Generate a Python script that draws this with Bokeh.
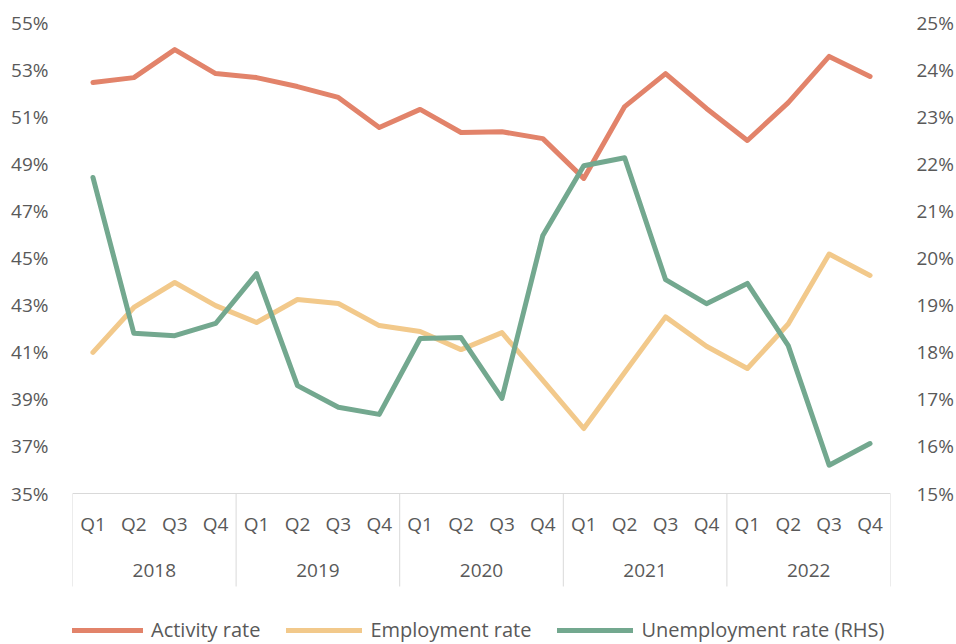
from bokeh.plotting import figure
from bokeh.models import Range1d, LinearAxis, FixedTicker, PrintfTickFormatter, Legend, LegendItem
from bokeh.core.properties import value
from bokeh.embed import file_html
from bokeh.resources import INLINE

# ---- data ----
years = ["2018", "2019", "2020", "2021", "2022"]
quarters = ["Q1", "Q2", "Q3", "Q4"]
activity = [52.45, 52.66, 53.85, 52.83, 52.66, 52.28, 51.82, 50.54, 51.31, 50.33,
            50.36, 50.07, 48.38, 51.43, 52.83, 51.35, 49.99, 51.60, 53.56, 52.71]
employment = [40.99, 42.90, 43.96, 42.98, 42.26, 43.24, 43.07, 42.13, 41.88, 41.11,
              41.83, 39.80, 37.76, 40.14, 42.50, 41.25, 40.31, 42.20, 45.17, 44.26]
unemployment = [21.71, 18.40, 18.35, 18.61, 19.67, 17.29, 16.83, 16.68, 18.29, 18.31,
                17.02, 20.48, 21.96, 22.13, 19.54, 19.03, 19.46, 18.14, 15.60, 16.06]
left_ticks = [35, 37, 39, 41, 43, 45, 47, 49, 51, 53, 55]
right_ticks = [15, 16, 17, 18, 19, 20, 21, 22, 23, 24, 25]

# ---- geometry ----
W, H = 956, 644
top, bottom_border = 22, 0
frame_h = H - top - bottom_border
axis_px = 471.0  # pixel height of the 35..55 span
lk = axis_px / (left_ticks[-1] - left_ticks[0])
rk = axis_px / (right_ticks[-1] - right_ticks[0])
left_range = Range1d(left_ticks[-1] - frame_h / lk, left_ticks[-1])
right_range = Range1d(right_ticks[-1] - frame_h / rk, right_ticks[-1])

n = len(years) * len(quarters)
xs = list(range(n))

FONT = value("Open Sans")
FS = "19px"
GRAY = "#595959"
C_ACT = "#E2836A"
C_EMP = "#F2C98B"
C_UNE = "#73A88F"

p = figure(width=W, height=H, output_backend="svg", toolbar_location=None,
           x_range=Range1d(-0.5, n - 0.5), y_range=left_range,
           min_border_left=72, min_border_right=65, min_border_top=top,
           min_border_bottom=bottom_border, x_axis_location=None, y_axis_location=None)
p.extra_y_ranges = {"rhs": right_range}
p.outline_line_color = None
p.xgrid.visible = False
p.ygrid.visible = False
p.background_fill_color = "white"
p.border_fill_color = "white"

def style_axis(ax, ticks, standoff):
    ax.ticker = FixedTicker(ticks=ticks)
    ax.formatter = PrintfTickFormatter(format="%d%%")
    ax.axis_line_color = None
    ax.major_tick_line_color = None
    ax.minor_tick_line_color = None
    ax.major_label_text_font = "Open Sans"
    ax.major_label_text_font_size = FS
    ax.major_label_text_color = GRAY
    ax.major_label_standoff = standoff

lax = LinearAxis(y_range_name="default")
style_axis(lax, left_ticks, 18)
p.add_layout(lax, "left")
rax = LinearAxis(y_range_name="rhs")
style_axis(rax, right_ticks, 20)
p.add_layout(rax, "right")

# category box (multi-level axis drawn inside the frame)
base = left_ticks[0]
q_y = base - (523 - 493) / lk
yr_y = base - (570 - 493) / lk
sep_bottom = base - (586 - 493) / lk
p.segment(x0=[-0.5], y0=[base], x1=[n - 0.5], y1=[base], line_color="#D9D9D9", line_width=1)
sep_x = [-0.5 + 4 * i for i in range(len(years) + 1)]
p.segment(x0=sep_x, y0=[base] * len(sep_x), x1=sep_x, y1=[sep_bottom] * len(sep_x),
          line_color="#D9D9D9", line_width=1)
p.text(x=xs, y=[q_y] * n, text=quarters * len(years), text_align="center",
       text_baseline="middle", text_font=FONT, text_font_size=FS, text_color=GRAY)
p.text(x=[1.5 + 4 * i for i in range(len(years))], y=[yr_y] * len(years), text=years,
       text_align="center", text_baseline="middle", text_font=FONT,
       text_font_size=FS, text_color=GRAY)

r1 = p.line(xs, activity, line_color=C_ACT, line_width=5, line_join="round", line_cap="round")
r2 = p.line(xs, employment, line_color=C_EMP, line_width=5, line_join="round", line_cap="round")
r3 = p.line(xs, unemployment, line_color=C_UNE, line_width=5, line_join="round",
            line_cap="round", y_range_name="rhs")

legend = Legend(items=[LegendItem(label="Activity rate", renderers=[r1]),
                       LegendItem(label="Employment rate", renderers=[r2]),
                       LegendItem(label="Unemployment rate (RHS)", renderers=[r3])],
                orientation="horizontal", location=(-5, 1), glyph_width=76, glyph_height=20,
                label_standoff=8, spacing=26, padding=0, margin=0,
                border_line_alpha=0, background_fill_alpha=0,
                label_text_font="Open Sans", label_text_font_size="20px",
                label_text_color=GRAY)
p.add_layout(legend)

open("out.html", "w").write(file_html(p, INLINE))
